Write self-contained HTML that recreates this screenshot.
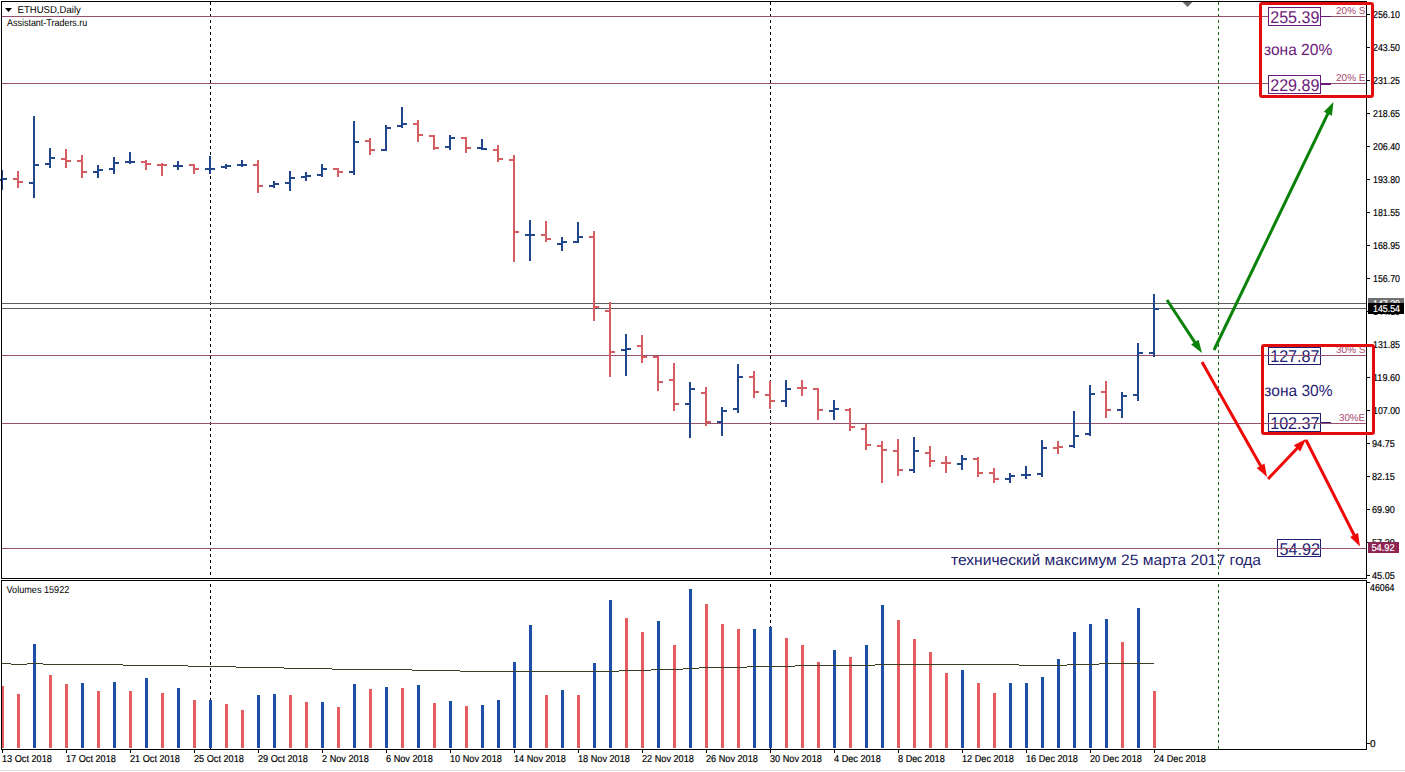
<!DOCTYPE html><html><head><meta charset="utf-8"><style>html,body{margin:0;padding:0;background:#fff;width:1405px;height:772px;overflow:hidden}svg{display:block}text{font-family:"Liberation Sans",sans-serif;text-rendering:geometricPrecision}</style></head><body>
<svg width="1405" height="772" viewBox="0 0 1405 772">
<rect x="0" y="0" width="1405" height="772" fill="#fff"/>
<line x1="210.5" y1="2" x2="210.5" y2="578" stroke="#000" stroke-width="1" stroke-dasharray="3 3" stroke-dashoffset="0" shape-rendering="crispEdges"/>
<line x1="210.5" y1="581" x2="210.5" y2="749" stroke="#000" stroke-width="1" stroke-dasharray="3 3" stroke-dashoffset="-3" shape-rendering="crispEdges"/>
<line x1="770.5" y1="2" x2="770.5" y2="578" stroke="#000" stroke-width="1" stroke-dasharray="3 3" stroke-dashoffset="0" shape-rendering="crispEdges"/>
<line x1="770.5" y1="581" x2="770.5" y2="749" stroke="#000" stroke-width="1" stroke-dasharray="3 3" stroke-dashoffset="-3" shape-rendering="crispEdges"/>
<line x1="1218.5" y1="2" x2="1218.5" y2="578" stroke="#1A6A1A" stroke-width="1" stroke-dasharray="3 3" stroke-dashoffset="0" shape-rendering="crispEdges"/>
<line x1="1218.5" y1="581" x2="1218.5" y2="749" stroke="#1A6A1A" stroke-width="1" stroke-dasharray="3 3" stroke-dashoffset="-3" shape-rendering="crispEdges"/>
<rect x="1268.5" y="347.5" width="52" height="17" fill="none" stroke="#1F2170" stroke-width="1"/>
<text x="1270.2" y="362" font-size="17" fill="#1F2170" textLength="49.2" lengthAdjust="spacingAndGlyphs" >127.87</text>
<rect x="1268.5" y="413.5" width="52" height="18" fill="none" stroke="#1F2170" stroke-width="1"/>
<text x="1270.2" y="429" font-size="17" fill="#1F2170" textLength="49.2" lengthAdjust="spacingAndGlyphs" >102.37</text>
<rect x="1321" y="422" width="10" height="2" fill="#1F2170"/>
<text x="1264.3" y="396" font-size="16" fill="#1F2170" textLength="68.2" lengthAdjust="spacingAndGlyphs" >зона 30%</text>
<text x="1336" y="353" font-size="10" fill="#A9476E" textLength="29.5" lengthAdjust="spacingAndGlyphs" >30% S</text>
<text x="1339" y="421" font-size="10" fill="#A9476E" textLength="26" lengthAdjust="spacingAndGlyphs" >30%E</text>
<rect x="1277.5" y="539.5" width="43" height="17" fill="none" stroke="#1F2170" stroke-width="1"/>
<text x="1279.5" y="555" font-size="17" fill="#1F2170" textLength="40.5" lengthAdjust="spacingAndGlyphs" >54.92</text>
<text x="951" y="565" font-size="15" fill="#23236E" textLength="310" lengthAdjust="spacingAndGlyphs" >технический максимум 25 марта 2017 года</text>
<g shape-rendering="crispEdges">
<rect x="2" y="303" width="1364" height="1" fill="#5E5E5E"/>
<rect x="2" y="308" width="1364" height="1" fill="#5E5E5E"/>
<rect x="2" y="16" width="1364" height="1" fill="#98506E"/>
<rect x="2" y="83" width="1364" height="1" fill="#98506E"/>
<rect x="2" y="355" width="1364" height="1" fill="#98506E"/>
<rect x="2" y="423" width="1364" height="1" fill="#98506E"/>
<rect x="2" y="548" width="1364" height="1" fill="#98506E"/>
</g>
<g shape-rendering="crispEdges">
<rect x="1" y="170" width="2" height="20" fill="#22468C"/>
<rect x="-3" y="179" width="4" height="2" fill="#22468C"/>
<rect x="3" y="178" width="4" height="2" fill="#22468C"/>
<rect x="17" y="171" width="2" height="17" fill="#D55C60"/>
<rect x="13" y="178" width="4" height="2" fill="#D55C60"/>
<rect x="19" y="181" width="4" height="2" fill="#D55C60"/>
<rect x="33" y="116" width="2" height="82" fill="#22468C"/>
<rect x="29" y="182" width="4" height="2" fill="#22468C"/>
<rect x="35" y="164" width="4" height="2" fill="#22468C"/>
<rect x="49" y="148" width="2" height="20" fill="#22468C"/>
<rect x="45" y="163" width="4" height="2" fill="#22468C"/>
<rect x="51" y="157" width="4" height="2" fill="#22468C"/>
<rect x="65" y="149" width="2" height="19" fill="#D55C60"/>
<rect x="61" y="158" width="4" height="2" fill="#D55C60"/>
<rect x="67" y="160" width="4" height="2" fill="#D55C60"/>
<rect x="81" y="155" width="2" height="23" fill="#D55C60"/>
<rect x="77" y="160" width="4" height="2" fill="#D55C60"/>
<rect x="83" y="171" width="4" height="2" fill="#D55C60"/>
<rect x="97" y="165" width="2" height="13" fill="#22468C"/>
<rect x="93" y="171" width="4" height="2" fill="#22468C"/>
<rect x="99" y="169" width="4" height="2" fill="#22468C"/>
<rect x="113" y="157" width="2" height="17" fill="#22468C"/>
<rect x="109" y="168" width="4" height="2" fill="#22468C"/>
<rect x="115" y="162" width="4" height="2" fill="#22468C"/>
<rect x="129" y="152" width="2" height="12" fill="#22468C"/>
<rect x="125" y="161" width="4" height="2" fill="#22468C"/>
<rect x="131" y="161" width="4" height="2" fill="#22468C"/>
<rect x="145" y="160" width="2" height="10" fill="#D55C60"/>
<rect x="141" y="161" width="4" height="2" fill="#D55C60"/>
<rect x="147" y="163" width="4" height="2" fill="#D55C60"/>
<rect x="161" y="163" width="2" height="13" fill="#D55C60"/>
<rect x="157" y="164" width="4" height="2" fill="#D55C60"/>
<rect x="163" y="164" width="4" height="2" fill="#D55C60"/>
<rect x="177" y="161" width="2" height="9" fill="#22468C"/>
<rect x="173" y="165" width="4" height="2" fill="#22468C"/>
<rect x="179" y="165" width="4" height="2" fill="#22468C"/>
<rect x="193" y="164" width="2" height="10" fill="#D55C60"/>
<rect x="189" y="164" width="4" height="2" fill="#D55C60"/>
<rect x="195" y="168" width="4" height="2" fill="#D55C60"/>
<rect x="209" y="156" width="2" height="18" fill="#22468C"/>
<rect x="205" y="168" width="4" height="2" fill="#22468C"/>
<rect x="211" y="168" width="4" height="2" fill="#22468C"/>
<rect x="225" y="164" width="2" height="5" fill="#22468C"/>
<rect x="221" y="166" width="4" height="2" fill="#22468C"/>
<rect x="227" y="165" width="4" height="2" fill="#22468C"/>
<rect x="241" y="160" width="2" height="7" fill="#22468C"/>
<rect x="237" y="164" width="4" height="2" fill="#22468C"/>
<rect x="243" y="164" width="4" height="2" fill="#22468C"/>
<rect x="257" y="160" width="2" height="33" fill="#D55C60"/>
<rect x="253" y="164" width="4" height="2" fill="#D55C60"/>
<rect x="259" y="185" width="4" height="2" fill="#D55C60"/>
<rect x="273" y="181" width="2" height="7" fill="#22468C"/>
<rect x="269" y="185" width="4" height="2" fill="#22468C"/>
<rect x="275" y="183" width="4" height="2" fill="#22468C"/>
<rect x="289" y="171" width="2" height="20" fill="#22468C"/>
<rect x="285" y="182" width="4" height="2" fill="#22468C"/>
<rect x="291" y="177" width="4" height="2" fill="#22468C"/>
<rect x="305" y="172" width="2" height="9" fill="#22468C"/>
<rect x="301" y="176" width="4" height="2" fill="#22468C"/>
<rect x="307" y="175" width="4" height="2" fill="#22468C"/>
<rect x="321" y="164" width="2" height="13" fill="#22468C"/>
<rect x="317" y="174" width="4" height="2" fill="#22468C"/>
<rect x="323" y="168" width="4" height="2" fill="#22468C"/>
<rect x="337" y="168" width="2" height="9" fill="#D55C60"/>
<rect x="333" y="168" width="4" height="2" fill="#D55C60"/>
<rect x="339" y="171" width="4" height="2" fill="#D55C60"/>
<rect x="353" y="121" width="2" height="54" fill="#22468C"/>
<rect x="349" y="171" width="4" height="2" fill="#22468C"/>
<rect x="355" y="141" width="4" height="2" fill="#22468C"/>
<rect x="369" y="138" width="2" height="17" fill="#D55C60"/>
<rect x="365" y="140" width="4" height="2" fill="#D55C60"/>
<rect x="371" y="149" width="4" height="2" fill="#D55C60"/>
<rect x="385" y="125" width="2" height="26" fill="#22468C"/>
<rect x="381" y="149" width="4" height="2" fill="#22468C"/>
<rect x="387" y="127" width="4" height="2" fill="#22468C"/>
<rect x="401" y="107" width="2" height="21" fill="#22468C"/>
<rect x="397" y="125" width="4" height="2" fill="#22468C"/>
<rect x="403" y="123" width="4" height="2" fill="#22468C"/>
<rect x="417" y="120" width="2" height="22" fill="#D55C60"/>
<rect x="413" y="123" width="4" height="2" fill="#D55C60"/>
<rect x="419" y="134" width="4" height="2" fill="#D55C60"/>
<rect x="433" y="135" width="2" height="15" fill="#D55C60"/>
<rect x="429" y="135" width="4" height="2" fill="#D55C60"/>
<rect x="435" y="147" width="4" height="2" fill="#D55C60"/>
<rect x="449" y="135" width="2" height="15" fill="#22468C"/>
<rect x="445" y="146" width="4" height="2" fill="#22468C"/>
<rect x="451" y="137" width="4" height="2" fill="#22468C"/>
<rect x="465" y="137" width="2" height="16" fill="#D55C60"/>
<rect x="461" y="137" width="4" height="2" fill="#D55C60"/>
<rect x="467" y="147" width="4" height="2" fill="#D55C60"/>
<rect x="481" y="139" width="2" height="11" fill="#22468C"/>
<rect x="477" y="147" width="4" height="2" fill="#22468C"/>
<rect x="483" y="148" width="4" height="2" fill="#22468C"/>
<rect x="497" y="145" width="2" height="17" fill="#D55C60"/>
<rect x="493" y="149" width="4" height="2" fill="#D55C60"/>
<rect x="499" y="158" width="4" height="2" fill="#D55C60"/>
<rect x="513" y="155" width="2" height="107" fill="#D55C60"/>
<rect x="509" y="159" width="4" height="2" fill="#D55C60"/>
<rect x="515" y="231" width="4" height="2" fill="#D55C60"/>
<rect x="529" y="220" width="2" height="41" fill="#22468C"/>
<rect x="525" y="234" width="4" height="2" fill="#22468C"/>
<rect x="531" y="234" width="4" height="2" fill="#22468C"/>
<rect x="545" y="221" width="2" height="21" fill="#D55C60"/>
<rect x="541" y="234" width="4" height="2" fill="#D55C60"/>
<rect x="547" y="238" width="4" height="2" fill="#D55C60"/>
<rect x="561" y="237" width="2" height="14" fill="#22468C"/>
<rect x="557" y="243" width="4" height="2" fill="#22468C"/>
<rect x="563" y="241" width="4" height="2" fill="#22468C"/>
<rect x="577" y="222" width="2" height="21" fill="#22468C"/>
<rect x="573" y="241" width="4" height="2" fill="#22468C"/>
<rect x="579" y="236" width="4" height="2" fill="#22468C"/>
<rect x="593" y="231" width="2" height="90" fill="#D55C60"/>
<rect x="589" y="236" width="4" height="2" fill="#D55C60"/>
<rect x="595" y="306" width="4" height="2" fill="#D55C60"/>
<rect x="609" y="302" width="2" height="75" fill="#D55C60"/>
<rect x="605" y="310" width="4" height="2" fill="#D55C60"/>
<rect x="611" y="351" width="4" height="2" fill="#D55C60"/>
<rect x="625" y="334" width="2" height="42" fill="#22468C"/>
<rect x="621" y="349" width="4" height="2" fill="#22468C"/>
<rect x="627" y="348" width="4" height="2" fill="#22468C"/>
<rect x="641" y="335" width="2" height="28" fill="#D55C60"/>
<rect x="637" y="345" width="4" height="2" fill="#D55C60"/>
<rect x="643" y="356" width="4" height="2" fill="#D55C60"/>
<rect x="657" y="356" width="2" height="35" fill="#D55C60"/>
<rect x="653" y="356" width="4" height="2" fill="#D55C60"/>
<rect x="659" y="381" width="4" height="2" fill="#D55C60"/>
<rect x="673" y="363" width="2" height="48" fill="#D55C60"/>
<rect x="669" y="379" width="4" height="2" fill="#D55C60"/>
<rect x="675" y="403" width="4" height="2" fill="#D55C60"/>
<rect x="689" y="382" width="2" height="56" fill="#22468C"/>
<rect x="685" y="403" width="4" height="2" fill="#22468C"/>
<rect x="691" y="388" width="4" height="2" fill="#22468C"/>
<rect x="705" y="387" width="2" height="39" fill="#D55C60"/>
<rect x="701" y="392" width="4" height="2" fill="#D55C60"/>
<rect x="707" y="421" width="4" height="2" fill="#D55C60"/>
<rect x="721" y="407" width="2" height="29" fill="#22468C"/>
<rect x="717" y="421" width="4" height="2" fill="#22468C"/>
<rect x="723" y="410" width="4" height="2" fill="#22468C"/>
<rect x="737" y="364" width="2" height="49" fill="#22468C"/>
<rect x="733" y="408" width="4" height="2" fill="#22468C"/>
<rect x="739" y="376" width="4" height="2" fill="#22468C"/>
<rect x="753" y="371" width="2" height="27" fill="#D55C60"/>
<rect x="749" y="376" width="4" height="2" fill="#D55C60"/>
<rect x="755" y="391" width="4" height="2" fill="#D55C60"/>
<rect x="769" y="381" width="2" height="28" fill="#D55C60"/>
<rect x="765" y="394" width="4" height="2" fill="#D55C60"/>
<rect x="771" y="400" width="4" height="2" fill="#D55C60"/>
<rect x="785" y="380" width="2" height="27" fill="#22468C"/>
<rect x="781" y="400" width="4" height="2" fill="#22468C"/>
<rect x="787" y="388" width="4" height="2" fill="#22468C"/>
<rect x="801" y="380" width="2" height="16" fill="#D55C60"/>
<rect x="797" y="387" width="4" height="2" fill="#D55C60"/>
<rect x="803" y="387" width="4" height="2" fill="#D55C60"/>
<rect x="817" y="388" width="2" height="32" fill="#D55C60"/>
<rect x="813" y="388" width="4" height="2" fill="#D55C60"/>
<rect x="819" y="409" width="4" height="2" fill="#D55C60"/>
<rect x="833" y="400" width="2" height="20" fill="#22468C"/>
<rect x="829" y="410" width="4" height="2" fill="#22468C"/>
<rect x="835" y="408" width="4" height="2" fill="#22468C"/>
<rect x="849" y="408" width="2" height="23" fill="#D55C60"/>
<rect x="845" y="409" width="4" height="2" fill="#D55C60"/>
<rect x="851" y="426" width="4" height="2" fill="#D55C60"/>
<rect x="865" y="424" width="2" height="26" fill="#D55C60"/>
<rect x="861" y="428" width="4" height="2" fill="#D55C60"/>
<rect x="867" y="444" width="4" height="2" fill="#D55C60"/>
<rect x="881" y="441" width="2" height="42" fill="#D55C60"/>
<rect x="877" y="445" width="4" height="2" fill="#D55C60"/>
<rect x="883" y="449" width="4" height="2" fill="#D55C60"/>
<rect x="897" y="439" width="2" height="37" fill="#D55C60"/>
<rect x="893" y="450" width="4" height="2" fill="#D55C60"/>
<rect x="899" y="469" width="4" height="2" fill="#D55C60"/>
<rect x="913" y="437" width="2" height="36" fill="#22468C"/>
<rect x="909" y="469" width="4" height="2" fill="#22468C"/>
<rect x="915" y="450" width="4" height="2" fill="#22468C"/>
<rect x="929" y="446" width="2" height="21" fill="#D55C60"/>
<rect x="925" y="452" width="4" height="2" fill="#D55C60"/>
<rect x="931" y="460" width="4" height="2" fill="#D55C60"/>
<rect x="945" y="456" width="2" height="17" fill="#D55C60"/>
<rect x="941" y="462" width="4" height="2" fill="#D55C60"/>
<rect x="947" y="462" width="4" height="2" fill="#D55C60"/>
<rect x="961" y="455" width="2" height="15" fill="#22468C"/>
<rect x="957" y="463" width="4" height="2" fill="#22468C"/>
<rect x="963" y="458" width="4" height="2" fill="#22468C"/>
<rect x="977" y="457" width="2" height="20" fill="#D55C60"/>
<rect x="973" y="458" width="4" height="2" fill="#D55C60"/>
<rect x="979" y="472" width="4" height="2" fill="#D55C60"/>
<rect x="993" y="468" width="2" height="15" fill="#D55C60"/>
<rect x="989" y="472" width="4" height="2" fill="#D55C60"/>
<rect x="995" y="478" width="4" height="2" fill="#D55C60"/>
<rect x="1009" y="473" width="2" height="10" fill="#22468C"/>
<rect x="1005" y="478" width="4" height="2" fill="#22468C"/>
<rect x="1011" y="475" width="4" height="2" fill="#22468C"/>
<rect x="1025" y="466" width="2" height="13" fill="#22468C"/>
<rect x="1021" y="474" width="4" height="2" fill="#22468C"/>
<rect x="1027" y="474" width="4" height="2" fill="#22468C"/>
<rect x="1041" y="440" width="2" height="37" fill="#22468C"/>
<rect x="1037" y="473" width="4" height="2" fill="#22468C"/>
<rect x="1043" y="447" width="4" height="2" fill="#22468C"/>
<rect x="1057" y="441" width="2" height="13" fill="#D55C60"/>
<rect x="1053" y="447" width="4" height="2" fill="#D55C60"/>
<rect x="1059" y="446" width="4" height="2" fill="#D55C60"/>
<rect x="1073" y="411" width="2" height="37" fill="#22468C"/>
<rect x="1069" y="445" width="4" height="2" fill="#22468C"/>
<rect x="1075" y="435" width="4" height="2" fill="#22468C"/>
<rect x="1089" y="385" width="2" height="51" fill="#22468C"/>
<rect x="1085" y="433" width="4" height="2" fill="#22468C"/>
<rect x="1091" y="393" width="4" height="2" fill="#22468C"/>
<rect x="1105" y="381" width="2" height="37" fill="#D55C60"/>
<rect x="1101" y="391" width="4" height="2" fill="#D55C60"/>
<rect x="1107" y="409" width="4" height="2" fill="#D55C60"/>
<rect x="1121" y="392" width="2" height="26" fill="#22468C"/>
<rect x="1117" y="409" width="4" height="2" fill="#22468C"/>
<rect x="1123" y="395" width="4" height="2" fill="#22468C"/>
<rect x="1137" y="343" width="2" height="58" fill="#22468C"/>
<rect x="1133" y="394" width="4" height="2" fill="#22468C"/>
<rect x="1139" y="352" width="4" height="2" fill="#22468C"/>
<rect x="1153" y="294" width="2" height="63" fill="#22468C"/>
<rect x="1149" y="352" width="4" height="2" fill="#22468C"/>
<rect x="1155" y="308" width="4" height="2" fill="#22468C"/>
</g>
<g shape-rendering="crispEdges">
<rect x="2" y="686" width="2" height="62" fill="#E65B5D"/>
<rect x="17" y="694" width="3" height="54" fill="#E65B5D"/>
<rect x="33" y="644" width="3" height="104" fill="#1E4FA6"/>
<rect x="49" y="675" width="3" height="73" fill="#E65B5D"/>
<rect x="65" y="684" width="3" height="64" fill="#E65B5D"/>
<rect x="81" y="683" width="3" height="65" fill="#1E4FA6"/>
<rect x="97" y="691" width="3" height="57" fill="#E65B5D"/>
<rect x="113" y="682" width="3" height="66" fill="#1E4FA6"/>
<rect x="129" y="691" width="3" height="57" fill="#E65B5D"/>
<rect x="145" y="678" width="3" height="70" fill="#1E4FA6"/>
<rect x="161" y="693" width="3" height="55" fill="#E65B5D"/>
<rect x="177" y="688" width="3" height="60" fill="#1E4FA6"/>
<rect x="193" y="700" width="3" height="48" fill="#E65B5D"/>
<rect x="209" y="700" width="3" height="48" fill="#1E4FA6"/>
<rect x="225" y="704" width="3" height="44" fill="#E65B5D"/>
<rect x="241" y="710" width="3" height="38" fill="#E65B5D"/>
<rect x="257" y="695" width="3" height="53" fill="#1E4FA6"/>
<rect x="273" y="694" width="3" height="54" fill="#1E4FA6"/>
<rect x="289" y="695" width="3" height="53" fill="#E65B5D"/>
<rect x="305" y="702" width="3" height="46" fill="#E65B5D"/>
<rect x="321" y="702" width="3" height="46" fill="#1E4FA6"/>
<rect x="337" y="707" width="3" height="41" fill="#E65B5D"/>
<rect x="353" y="684" width="3" height="64" fill="#1E4FA6"/>
<rect x="369" y="689" width="3" height="59" fill="#E65B5D"/>
<rect x="385" y="687" width="3" height="61" fill="#1E4FA6"/>
<rect x="401" y="688" width="3" height="60" fill="#E65B5D"/>
<rect x="417" y="685" width="3" height="63" fill="#1E4FA6"/>
<rect x="433" y="703" width="3" height="45" fill="#E65B5D"/>
<rect x="449" y="701" width="3" height="47" fill="#1E4FA6"/>
<rect x="465" y="706" width="3" height="42" fill="#E65B5D"/>
<rect x="481" y="705" width="3" height="43" fill="#1E4FA6"/>
<rect x="497" y="700" width="3" height="48" fill="#1E4FA6"/>
<rect x="513" y="662" width="3" height="86" fill="#1E4FA6"/>
<rect x="529" y="625" width="3" height="123" fill="#1E4FA6"/>
<rect x="545" y="695" width="3" height="53" fill="#E65B5D"/>
<rect x="561" y="690" width="3" height="58" fill="#1E4FA6"/>
<rect x="577" y="695" width="3" height="53" fill="#E65B5D"/>
<rect x="593" y="663" width="3" height="85" fill="#1E4FA6"/>
<rect x="609" y="600" width="3" height="148" fill="#1E4FA6"/>
<rect x="625" y="618" width="3" height="130" fill="#E65B5D"/>
<rect x="641" y="632" width="3" height="116" fill="#E65B5D"/>
<rect x="657" y="621" width="3" height="127" fill="#1E4FA6"/>
<rect x="673" y="645" width="3" height="103" fill="#E65B5D"/>
<rect x="689" y="589" width="3" height="159" fill="#1E4FA6"/>
<rect x="705" y="604" width="3" height="144" fill="#E65B5D"/>
<rect x="721" y="624" width="3" height="124" fill="#E65B5D"/>
<rect x="737" y="629" width="3" height="119" fill="#E65B5D"/>
<rect x="753" y="629" width="3" height="119" fill="#1E4FA6"/>
<rect x="769" y="627" width="3" height="121" fill="#1E4FA6"/>
<rect x="785" y="638" width="3" height="110" fill="#E65B5D"/>
<rect x="801" y="645" width="3" height="103" fill="#E65B5D"/>
<rect x="817" y="662" width="3" height="86" fill="#E65B5D"/>
<rect x="833" y="650" width="3" height="98" fill="#1E4FA6"/>
<rect x="849" y="657" width="3" height="91" fill="#E65B5D"/>
<rect x="865" y="645" width="3" height="103" fill="#1E4FA6"/>
<rect x="881" y="605" width="3" height="143" fill="#1E4FA6"/>
<rect x="897" y="620" width="3" height="128" fill="#E65B5D"/>
<rect x="913" y="639" width="3" height="109" fill="#E65B5D"/>
<rect x="929" y="652" width="3" height="96" fill="#E65B5D"/>
<rect x="945" y="673" width="3" height="75" fill="#E65B5D"/>
<rect x="961" y="670" width="3" height="78" fill="#1E4FA6"/>
<rect x="977" y="683" width="3" height="65" fill="#E65B5D"/>
<rect x="993" y="693" width="3" height="55" fill="#E65B5D"/>
<rect x="1009" y="683" width="3" height="65" fill="#1E4FA6"/>
<rect x="1025" y="683" width="3" height="65" fill="#1E4FA6"/>
<rect x="1041" y="677" width="3" height="71" fill="#1E4FA6"/>
<rect x="1057" y="659" width="3" height="89" fill="#1E4FA6"/>
<rect x="1073" y="632" width="3" height="116" fill="#1E4FA6"/>
<rect x="1089" y="624" width="3" height="124" fill="#1E4FA6"/>
<rect x="1105" y="619" width="3" height="129" fill="#1E4FA6"/>
<rect x="1121" y="642" width="3" height="106" fill="#E65B5D"/>
<rect x="1137" y="608" width="3" height="140" fill="#1E4FA6"/>
<rect x="1153" y="691" width="3" height="57" fill="#E65B5D"/>
</g>
<polyline points="1,663.5 10,663.5 12,664.5 26,664.5 28,663.5 42,663.5 44,664.5 122,664.5 124,665.5 187,665.5 189,666.5 235,666.5 237,667.5 283,667.5 285,668.5 331,668.5 333,669.5 411,669.5 413,670.5 459,670.5 461,671.5 618,671.5 620,670.5 650,670.5 652,669.5 682,669.5 684,668.5 698,668.5 700,667.5 746,667.5 748,666.5 794,666.5 796,665.5 874,665.5 876,664.5 1018,664.5 1020,665.5 1066,665.5 1068,664.5 1098,664.5 1100,663.5 1154,663.5" fill="none" stroke="#3E3E22" stroke-width="1" shape-rendering="crispEdges"/>
<polygon points="1182.5,2 1192.5,2 1187.5,7" fill="#6A6A6A"/>
<g shape-rendering="crispEdges" fill="#000">
<rect x="1" y="1" width="1366" height="1"/>
<rect x="1" y="1" width="1" height="578"/>
<rect x="1" y="578" width="1366" height="1"/>
<rect x="1" y="580" width="1366" height="1"/>
<rect x="1" y="580" width="1" height="170"/>
<rect x="1" y="749" width="1366" height="1"/>
<rect x="1366" y="1" width="1" height="578"/>
<rect x="1366" y="580" width="1" height="170"/>
<rect x="1367" y="14" width="3" height="1"/>
<rect x="1367" y="47" width="3" height="1"/>
<rect x="1367" y="80" width="3" height="1"/>
<rect x="1367" y="113" width="3" height="1"/>
<rect x="1367" y="146" width="3" height="1"/>
<rect x="1367" y="179" width="3" height="1"/>
<rect x="1367" y="212" width="3" height="1"/>
<rect x="1367" y="245" width="3" height="1"/>
<rect x="1367" y="278" width="3" height="1"/>
<rect x="1367" y="311" width="3" height="1"/>
<rect x="1367" y="344" width="3" height="1"/>
<rect x="1367" y="377" width="3" height="1"/>
<rect x="1367" y="410" width="3" height="1"/>
<rect x="1367" y="443" width="3" height="1"/>
<rect x="1367" y="476" width="3" height="1"/>
<rect x="1367" y="509" width="3" height="1"/>
<rect x="1367" y="542" width="3" height="1"/>
<rect x="1367" y="575" width="3" height="1"/>
<rect x="1367" y="582" width="3" height="1"/>
<rect x="1367" y="743" width="3" height="1"/>
<rect x="2" y="750" width="1" height="3"/>
<rect x="66" y="750" width="1" height="3"/>
<rect x="130" y="750" width="1" height="3"/>
<rect x="194" y="750" width="1" height="3"/>
<rect x="258" y="750" width="1" height="3"/>
<rect x="322" y="750" width="1" height="3"/>
<rect x="386" y="750" width="1" height="3"/>
<rect x="450" y="750" width="1" height="3"/>
<rect x="514" y="750" width="1" height="3"/>
<rect x="578" y="750" width="1" height="3"/>
<rect x="642" y="750" width="1" height="3"/>
<rect x="706" y="750" width="1" height="3"/>
<rect x="770" y="750" width="1" height="3"/>
<rect x="834" y="750" width="1" height="3"/>
<rect x="898" y="750" width="1" height="3"/>
<rect x="962" y="750" width="1" height="3"/>
<rect x="1026" y="750" width="1" height="3"/>
<rect x="1090" y="750" width="1" height="3"/>
<rect x="1154" y="750" width="1" height="3"/>
</g>
<rect x="0" y="770" width="1405" height="1" fill="#E0E0E0"/>
<g font-size="10" fill="#000" stroke="#000" stroke-width="0.18">
<text x="1373" y="18" textLength="27.0" lengthAdjust="spacingAndGlyphs">256.10</text>
<text x="1373" y="51" textLength="27.0" lengthAdjust="spacingAndGlyphs">243.50</text>
<text x="1373" y="84" textLength="27.0" lengthAdjust="spacingAndGlyphs">231.25</text>
<text x="1373" y="117" textLength="27.0" lengthAdjust="spacingAndGlyphs">218.65</text>
<text x="1373" y="150" textLength="27.0" lengthAdjust="spacingAndGlyphs">206.40</text>
<text x="1373" y="183" textLength="27.0" lengthAdjust="spacingAndGlyphs">193.80</text>
<text x="1373" y="216" textLength="27.0" lengthAdjust="spacingAndGlyphs">181.55</text>
<text x="1373" y="249" textLength="27.0" lengthAdjust="spacingAndGlyphs">168.95</text>
<text x="1373" y="282" textLength="27.0" lengthAdjust="spacingAndGlyphs">156.70</text>
<text x="1373" y="315" textLength="27.0" lengthAdjust="spacingAndGlyphs">144.10</text>
<text x="1373" y="348" textLength="27.0" lengthAdjust="spacingAndGlyphs">131.85</text>
<text x="1373" y="381" textLength="27.0" lengthAdjust="spacingAndGlyphs">119.60</text>
<text x="1373" y="414" textLength="27.0" lengthAdjust="spacingAndGlyphs">107.00</text>
<text x="1372" y="447" textLength="22.8" lengthAdjust="spacingAndGlyphs">94.75</text>
<text x="1372" y="480" textLength="22.8" lengthAdjust="spacingAndGlyphs">82.15</text>
<text x="1372" y="513" textLength="22.8" lengthAdjust="spacingAndGlyphs">69.90</text>
<text x="1372" y="546" textLength="22.8" lengthAdjust="spacingAndGlyphs">57.30</text>
<text x="1372" y="579" textLength="22.8" lengthAdjust="spacingAndGlyphs">45.05</text>
<text x="1370" y="591" textLength="24.5" lengthAdjust="spacingAndGlyphs">46064</text>
<text x="1370" y="747">0</text>
</g>
<g font-size="10" fill="#000" stroke="#000" stroke-width="0.18">
<text x="2" y="762" textLength="49.9" lengthAdjust="spacingAndGlyphs">13 Oct 2018</text>
<text x="66" y="762" textLength="49.9" lengthAdjust="spacingAndGlyphs">17 Oct 2018</text>
<text x="130" y="762" textLength="49.9" lengthAdjust="spacingAndGlyphs">21 Oct 2018</text>
<text x="194" y="762" textLength="49.9" lengthAdjust="spacingAndGlyphs">25 Oct 2018</text>
<text x="258" y="762" textLength="49.9" lengthAdjust="spacingAndGlyphs">29 Oct 2018</text>
<text x="322" y="762" textLength="46.8" lengthAdjust="spacingAndGlyphs">2 Nov 2018</text>
<text x="386" y="762" textLength="46.8" lengthAdjust="spacingAndGlyphs">6 Nov 2018</text>
<text x="450" y="762" textLength="51.9" lengthAdjust="spacingAndGlyphs">10 Nov 2018</text>
<text x="514" y="762" textLength="51.9" lengthAdjust="spacingAndGlyphs">14 Nov 2018</text>
<text x="578" y="762" textLength="51.9" lengthAdjust="spacingAndGlyphs">18 Nov 2018</text>
<text x="642" y="762" textLength="51.9" lengthAdjust="spacingAndGlyphs">22 Nov 2018</text>
<text x="706" y="762" textLength="51.9" lengthAdjust="spacingAndGlyphs">26 Nov 2018</text>
<text x="770" y="762" textLength="51.9" lengthAdjust="spacingAndGlyphs">30 Nov 2018</text>
<text x="834" y="762" textLength="46.8" lengthAdjust="spacingAndGlyphs">4 Dec 2018</text>
<text x="898" y="762" textLength="46.8" lengthAdjust="spacingAndGlyphs">8 Dec 2018</text>
<text x="962" y="762" textLength="51.9" lengthAdjust="spacingAndGlyphs">12 Dec 2018</text>
<text x="1026" y="762" textLength="51.9" lengthAdjust="spacingAndGlyphs">16 Dec 2018</text>
<text x="1090" y="762" textLength="51.9" lengthAdjust="spacingAndGlyphs">20 Dec 2018</text>
<text x="1154" y="762" textLength="51.9" lengthAdjust="spacingAndGlyphs">24 Dec 2018</text>
</g>
<polygon points="5,8 12,8 8.5,12" fill="#000"/>
<text x="17.5" y="13" font-size="10" fill="#000" textLength="63.3" lengthAdjust="spacingAndGlyphs" >ETHUSD,Daily</text>
<text x="7" y="26" font-size="10" fill="#000" textLength="80.3" lengthAdjust="spacingAndGlyphs" >Assistant-Traders.ru</text>
<text x="6.5" y="593" font-size="10" fill="#000" textLength="62.8" lengthAdjust="spacingAndGlyphs" >Volumes 15922</text>
<rect x="1368" y="298" width="36" height="11" fill="#707070"/>
<text x="1373" y="307" font-size="10" fill="#fff" textLength="27" lengthAdjust="spacingAndGlyphs" stroke="#fff" stroke-width="0.2">147.29</text>
<rect x="1368" y="303" width="36" height="11" fill="#000"/>
<text x="1373" y="312" font-size="10" fill="#fff" textLength="27" lengthAdjust="spacingAndGlyphs" stroke="#fff" stroke-width="0.2">145.54</text>
<rect x="1368" y="542" width="31" height="11" fill="#8E2452"/>
<text x="1371.5" y="551" font-size="10" fill="#fff" textLength="23" lengthAdjust="spacingAndGlyphs" stroke="#fff" stroke-width="0.2">54.92</text>
<rect x="1268.5" y="7.5" width="52" height="18" fill="#fff" stroke="#6A1A78" stroke-width="1"/>
<text x="1270.2" y="23" font-size="17" fill="#6A1A78" textLength="49.2" lengthAdjust="spacingAndGlyphs" >255.39</text>
<rect x="1268.5" y="75.5" width="52" height="18" fill="#fff" stroke="#6A1A78" stroke-width="1"/>
<text x="1270.2" y="91" font-size="17" fill="#6A1A78" textLength="49.2" lengthAdjust="spacingAndGlyphs" >229.89</text>
<rect x="1321" y="16" width="10" height="1" fill="#6A1A78"/>
<rect x="1321" y="83" width="10" height="2" fill="#6A1A78"/>
<text x="1264" y="55" font-size="16" fill="#6A1A78" textLength="68.2" lengthAdjust="spacingAndGlyphs" >зона 20%</text>
<text x="1336" y="14" font-size="10" fill="#A9476E" textLength="29.5" lengthAdjust="spacingAndGlyphs" >20% S</text>
<text x="1336" y="81" font-size="10" fill="#A9476E" textLength="29.5" lengthAdjust="spacingAndGlyphs" >20% E</text>
<line x1="1167" y1="300" x2="1195.9" y2="343.8" stroke="#0A820A" stroke-width="3"/>
<polygon points="1202,353 1191.1,344.6 1198.6,339.7" fill="#0A820A"/>
<line x1="1214" y1="350" x2="1328.7" y2="111.9" stroke="#0A820A" stroke-width="3"/>
<polygon points="1333.5,102 1331.9,115.7 1323.8,111.8" fill="#0A820A"/>
<line x1="1202" y1="362" x2="1261.6" y2="467.4" stroke="#F00808" stroke-width="3"/>
<polygon points="1267,477 1256.7,467.9 1264.5,463.5" fill="#F00808"/>
<line x1="1268" y1="479" x2="1298.4" y2="447.0" stroke="#F00808" stroke-width="3"/>
<polygon points="1306,439 1300.3,451.5 1293.8,445.3" fill="#F00808"/>
<line x1="1306" y1="440" x2="1355.0" y2="536.7" stroke="#F00808" stroke-width="3"/>
<polygon points="1360,546.5 1350.1,536.9 1358.1,532.9" fill="#F00808"/>
<rect x="1260.5" y="3.5" width="112" height="93" fill="none" stroke="#E30C0C" stroke-width="3" rx="1.5"/>
<rect x="1262.5" y="345.5" width="111" height="88" fill="none" stroke="#E30C0C" stroke-width="3" rx="1.5"/>
</svg></body></html>
